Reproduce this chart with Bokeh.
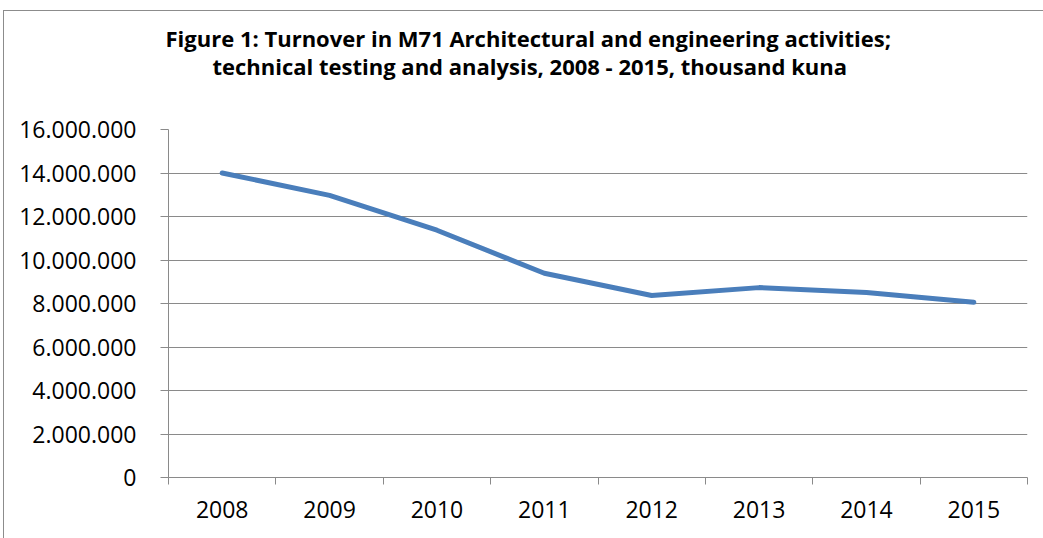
from bokeh.plotting import figure
from bokeh.models import Range1d, FixedTicker, Title
from bokeh.embed import file_html
from bokeh.resources import INLINE

years = ["2008", "2009", "2010", "2011", "2012", "2013", "2014", "2015"]
turnover = [14000000, 12970000, 11370000, 9390000, 8370000, 8730000, 8510000, 8060000]
y_ticks = [0, 2000000, 4000000, 6000000, 8000000, 10000000, 12000000, 14000000, 16000000]
y_tick_labels = ["0", "2.000.000", "4.000.000", "6.000.000", "8.000.000",
                 "10.000.000", "12.000.000", "14.000.000", "16.000.000"]
title_lines = ["Figure 1: Turnover in M71 Architectural and engineering activities;",
               "technical testing and analysis, 2008 - 2015, thousand kuna"]

FONT = "Open Sans"
GRID = "#8a8a8a"

x_pos = [i + 0.5 for i in range(len(years))]

p = figure(width=1043, height=538, output_backend="svg", toolbar_location=None,
           x_range=Range1d(0, len(years)), y_range=Range1d(y_ticks[0], y_ticks[-1]),
           min_border_left=168, min_border_right=16, min_border_top=129, min_border_bottom=61)
p.title = None
p.outline_line_color = None
p.background_fill_color = "white"
p.border_fill_color = None
p.styles = {
    "background": "linear-gradient(#8c8c8c,#8c8c8c) 3px 10px / 1px 100% no-repeat, "
                  "linear-gradient(#8c8c8c,#8c8c8c) 3px 10px / 100% 1px no-repeat, white"
}

p.line(x_pos, turnover, line_color="#4a7ebb", line_width=5, line_join="round", line_cap="round")

# x axis
xa = p.xaxis[0]
xa.ticker = FixedTicker(ticks=x_pos, minor_ticks=list(range(len(years) + 1)))
xa.major_label_overrides = {x: y for x, y in zip(x_pos, years)}
xa.major_tick_line_color = None
xa.major_tick_out = 0
xa.major_tick_in = 0
xa.minor_tick_line_color = GRID
xa.minor_tick_out = 7
xa.minor_tick_in = 0
xa.axis_line_color = GRID
xa.major_label_text_font = FONT
xa.major_label_text_font_size = "23px"
xa.major_label_text_color = "black"
xa.major_label_standoff = 16

# y axis
ya = p.yaxis[0]
ya.ticker = FixedTicker(ticks=y_ticks)
ya.major_label_overrides = {t: l for t, l in zip(y_ticks, y_tick_labels)}
ya.major_tick_line_color = GRID
ya.major_tick_out = 8
ya.major_tick_in = 0
ya.minor_tick_line_color = None
ya.axis_line_color = GRID
ya.major_label_text_font = FONT
ya.major_label_text_font_size = "23px"
ya.major_label_text_color = "black"
ya.major_label_standoff = 24

p.xgrid.grid_line_color = None
p.ygrid.grid_line_color = GRID
p.ygrid.grid_line_width = 1
p.ygrid.ticker = FixedTicker(ticks=y_ticks)

# title: spacer closest to the frame, then line 2, then line 1
spacer = Title(text=" ", text_font_size="1px", standoff=46)
t2 = Title(text=title_lines[1], align="left", offset=44, text_font=FONT,
           text_font_size="22px", text_font_style="bold", text_color="black", standoff=0)
t1 = Title(text=title_lines[0], align="left", offset=-3, text_font=FONT,
           text_font_size="22px", text_font_style="bold", text_color="black", standoff=-8)
p.add_layout(spacer, "above")
p.add_layout(t2, "above")
p.add_layout(t1, "above")

open("out.html", "w").write(file_html(p, INLINE))
